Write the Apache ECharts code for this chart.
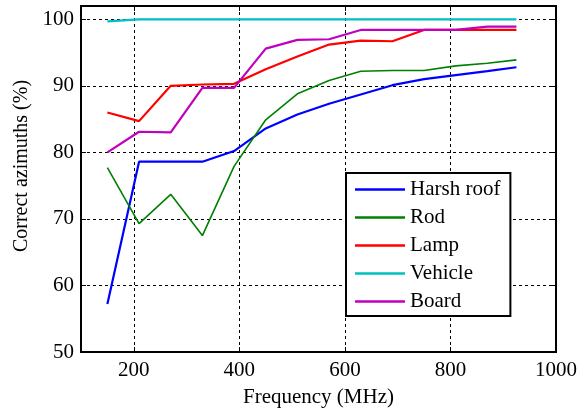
<!DOCTYPE html>
<html>
<head>
<meta charset="utf-8">
<script src="https://cdn.jsdelivr.net/npm/echarts@6/dist/echarts.min.js"></script>
<style>
  html, body { margin: 0; padding: 0; background: #fff; }
  #chart { width: 586px; height: 413px; }
</style>
</head>
<body>
<div id="chart"></div>
<script>
// 频率 (MHz)
var freqs = [150, 210, 270, 330, 390, 450, 510, 570, 630, 690, 750, 810, 870, 925];
var xTicks = [200, 400, 600, 800, 1000];

var harshRoof = [57.2, 78.6, 78.6, 78.6, 80.2, 83.6, 85.7, 87.3, 88.7, 90.1, 91.0, 91.6, 92.2, 92.8];
var rod       = [77.7, 69.3, 73.7, 67.5, 77.9, 84.9, 88.8, 90.8, 92.2, 92.3, 92.3, 93.0, 93.4, 93.9];
var lamp      = [86.0, 84.7, 90.0, 90.2, 90.3, 92.5, 94.4, 96.2, 96.8, 96.7, 98.4, 98.4, 98.4, 98.4];
var vehicle   = [99.7, 100, 100, 100, 100, 100, 100, 100, 100, 100, 100, 100, 100, 100];
var board     = [80.0, 83.1, 83.0, 89.7, 89.7, 95.6, 96.9, 97.0, 98.4, 98.4, 98.4, 98.4, 98.9, 98.9];

var names  = ["Harsh roof", "Rod", "Lamp", "Vehicle", "Board"];
var colors = ["#0000ff", "#008000", "#ff0000", "#00bfbf", "#bf00bf"];
var values = [harshRoof, rod, lamp, vehicle, board];

var font = "Liberation Serif";

function pairs(arr) {
  return arr.map(function(v, i) { return [freqs[i], v]; });
}

var chart = echarts.init(document.getElementById("chart"));

var dashed = { show: true, lineStyle: { color: "#000", type: [3, 3], width: 1 } };

var option = {
  animation: false,
  grid: {
    left: 81, right: 30, top: 6, bottom: 56,
    show: true, borderColor: "#000", borderWidth: 2
  },
  legend: {
    orient: "vertical",
    left: 346, top: 173,
    data: names,
    icon: "rect",
    itemWidth: 50, itemHeight: 2.5, itemGap: 7, itemTextGap: 5,
    padding: [6, 10, 4, 9],
    backgroundColor: "#fff",
    borderColor: "#000", borderWidth: 2, borderRadius: 0,
    textStyle: { fontFamily: font, fontSize: 21, color: "#000", lineHeight: 21 }
  },
  xAxis: [{
    type: "value", min: 100, max: 1000,
    name: "Frequency (MHz)", nameLocation: "middle", nameGap: 35,
    nameTextStyle: { fontFamily: font, fontSize: 21, color: "#000" },
    axisLine: { show: true, lineStyle: { color: "#000", width: 2 } },
    axisTick: { show: true, inside: true, length: 5, customValues: xTicks, lineStyle: { color: "#000" } },
    axisLabel: {
      margin: 8, fontFamily: font, fontSize: 21, color: "#000", customValues: xTicks,
      formatter: function(v) { return String(v); }
    },
    splitLine: dashed
  }, {
    type: "value", position: "top", min: 100, max: 1000,
    axisLine: { show: true, lineStyle: { color: "#000", width: 2 } },
    axisTick: { show: true, inside: true, length: 5, customValues: xTicks, lineStyle: { color: "#000" } },
    axisLabel: { show: false }, splitLine: { show: false }
  }],
  yAxis: [{
    type: "value", min: 50, max: 102, interval: 10,
    name: "Correct azimuths (%)", nameLocation: "middle", nameGap: 48, nameRotate: 90,
    nameTextStyle: { fontFamily: font, fontSize: 20, color: "#000", padding: [0, 0, 0, 26] },
    axisLine: { show: true, lineStyle: { color: "#000", width: 2 } },
    axisTick: { show: true, inside: true, length: 5, lineStyle: { color: "#000" } },
    axisLabel: {
      margin: 7, fontFamily: font, fontSize: 21, color: "#000",
      formatter: function(v) { return v % 10 === 0 ? String(v) : ""; }
    },
    splitLine: dashed
  }, {
    type: "value", position: "right", min: 50, max: 102, interval: 10,
    axisLine: { show: true, lineStyle: { color: "#000", width: 2 } },
    axisTick: { show: true, inside: true, length: 5, lineStyle: { color: "#000" } },
    axisLabel: { show: false }, splitLine: { show: false }
  }],
  series: names.map(function(n, i) {
    return {
      name: n,
      type: "line",
      data: pairs(values[i]),
      symbol: "none",
      color: colors[i],
      lineStyle: { width: i === 1 ? 1.6 : 2.2, color: colors[i] }
    };
  })
};

chart.setOption(option);
</script>
</body>
</html>
